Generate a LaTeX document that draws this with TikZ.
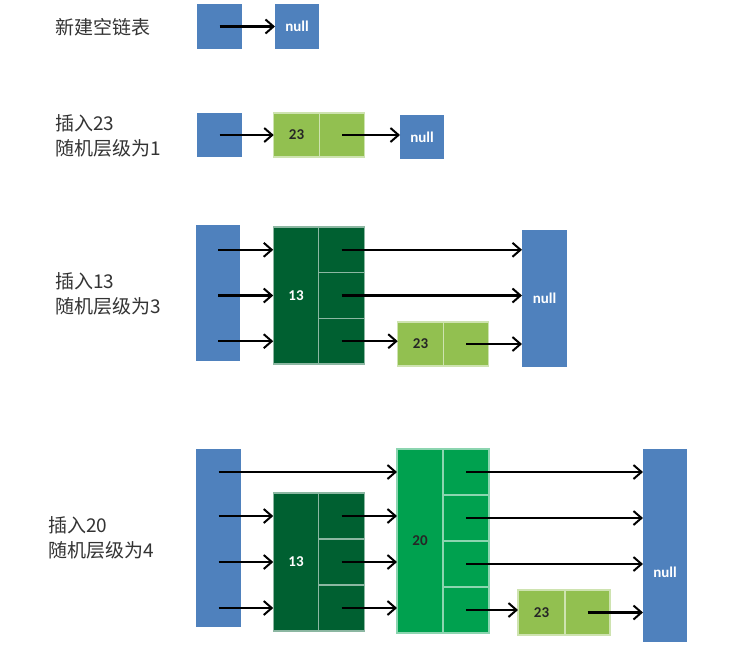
\documentclass[tikz,border=0pt]{standalone}
\usepackage{fontspec}
\newfontfamily\cjk{Noto Sans CJK SC}
\newfontfamily\boxfont{Carlito}
\usetikzlibrary{arrows.meta}
\definecolor{headblue}{HTML}{4F81BD}
\definecolor{lightgreen}{HTML}{92C050}
\definecolor{darkgreen}{HTML}{006031}
\definecolor{midgreen}{HTML}{00A14F}
\definecolor{labelgray}{HTML}{333333}
\tikzset{
  box/.style={inner sep=0pt, outer sep=0pt, font=\boxfont\bfseries\fontsize{15}{15}\selectfont},
  headbox/.style={box, fill=headblue, text=white, minimum width=45pt},
  cell23/.style={box, fill=lightgreen, draw=white!55!lightgreen, line width=1.2pt,
    minimum width=45.5pt, minimum height=44pt, text=black!85},
  cell13/.style={box, fill=darkgreen, draw=white!55!darkgreen, line width=1.2pt,
    minimum width=45.5pt, text=white},
  cell20/.style={box, fill=midgreen, draw=white!55!midgreen, line width=1.2pt,
    minimum width=46pt, text=black!85},
  steplabel/.style={anchor=west, align=left, inner sep=0pt, text=labelgray,
    font=\cjk\fontsize{19}{25}\selectfont},
  link/.style={-{Straight Barb[length=8pt,width=14pt,line width=2pt]}, line width=2.3pt, black}
}
\begin{document}
\begin{tikzpicture}[x=1pt, y=-1pt]
  \useasboundingbox (0,0) rectangle (730,667);
  % empty list
  \node[steplabel] (t1) at (55,27) {新建空链表};
  \node[headbox, minimum height=45pt] (h1) at (219.5,26.5) {};
  \node[headbox, minimum width=44pt, minimum height=45pt] (nul1) at (297,26.5) {null};
  % insert 23, level 1
  \node[steplabel] (t2) at (55,135.5) {插入23\\随机层级为1};
  \node[headbox, minimum height=44pt] (h2) at (219.5,135) {};
  \node[cell23] (k23b) at (296.5,135) {23};
  \node[cell23, minimum width=45pt] (p23b) at (342,135) {};
  \node[headbox, minimum width=44pt, minimum height=44pt] (nul2) at (422,137) {null};
  % insert 13, level 3
  \node[steplabel] (t3) at (55,294) {插入13\\随机层级为3};
  \node[headbox, minimum width=44pt, minimum height=136pt] (h3) at (218,293) {};
  \node[cell13, minimum height=137pt] (k13c) at (296,295.5) {13};
  \node[cell13, minimum height=45.7pt] (p13c1) at (341.5,249.8) {};
  \node[cell13, minimum height=45.7pt] (p13c2) at (341.5,295.5) {};
  \node[cell13, minimum height=45.7pt] (p13c3) at (341.5,341.2) {};
  \node[cell23] (k23c) at (420.5,344) {23};
  \node[cell23] (p23c) at (466,344) {};
  \node[headbox, minimum height=137pt] (nul3) at (544.5,298.5) {null};
  % insert 20, level 4
  \node[steplabel] (t4) at (48,537.5) {插入20\\随机层级为4};
  \node[headbox, minimum height=178pt] (h4) at (218.5,538) {};
  \node[cell13, minimum height=138pt] (k13d) at (296,562) {13};
  \node[cell13, minimum height=46pt] (p13d1) at (341.5,516) {};
  \node[cell13, minimum height=46pt] (p13d2) at (341.5,562) {};
  \node[cell13, minimum height=46pt] (p13d3) at (341.5,608) {};
  \node[cell20, minimum height=184pt] (k20d) at (420,541) {20};
  \node[cell20, minimum height=46pt] (p20d1) at (466,472) {};
  \node[cell20, minimum height=46pt] (p20d2) at (466,518) {};
  \node[cell20, minimum height=46pt] (p20d3) at (466,564) {};
  \node[cell20, minimum height=46pt] (p20d4) at (466,610) {};
  \node[cell23, minimum width=47pt, minimum height=45pt] (k23d) at (541.5,612.5) {23};
  \node[cell23, minimum width=45pt, minimum height=45pt] (p23d) at (587.5,612.5) {};
  \node[headbox, minimum width=44pt, minimum height=193pt,
    label={[box, text=white, yshift=-26.5pt]center:null}] (nul4) at (665,545.5) {};
  \begin{scope}[link]
    \draw (h1.center) -- (nul1.west);
    \draw (h2.center) -- (k23b.west);
    \draw (p23b.center) -- (nul2.west |- p23b.center);
    \draw (h3.center |- p13c1.center) -- (k13c.west |- p13c1.center);
    \draw (h3.center |- p13c2.center) -- (k13c.west |- p13c2.center);
    \draw (h3.center |- p13c3.center) -- (k13c.west |- p13c3.center);
    \draw (p13c1.center) -- (nul3.west |- p13c1.center);
    \draw (p13c2.center) -- (nul3.west |- p13c2.center);
    \draw (p13c3.center) -- (k23c.west |- p13c3.center);
    \draw (p23c.center) -- (nul3.west |- p23c.center);
    \draw (h4.center |- p20d1.center) -- (k20d.west |- p20d1.center);
    \draw (h4.center |- p13d1.center) -- (k13d.west |- p13d1.center);
    \draw (h4.center |- p13d2.center) -- (k13d.west |- p13d2.center);
    \draw (h4.center |- p13d3.center) -- (k13d.west |- p13d3.center);
    \draw (p13d1.center) -- (k20d.west |- p13d1.center);
    \draw (p13d2.center) -- (k20d.west |- p13d2.center);
    \draw (p13d3.center) -- (k20d.west |- p13d3.center);
    \draw (p20d1.center) -- (nul4.west |- p20d1.center);
    \draw (p20d2.center) -- (nul4.west |- p20d2.center);
    \draw (p20d3.center) -- (nul4.west |- p20d3.center);
    \draw (p20d4.center) -- (k23d.west |- p20d4.center);
    \draw (p23d.center) -- (nul4.west |- p23d.center);
  \end{scope}
\end{tikzpicture}
\end{document}
